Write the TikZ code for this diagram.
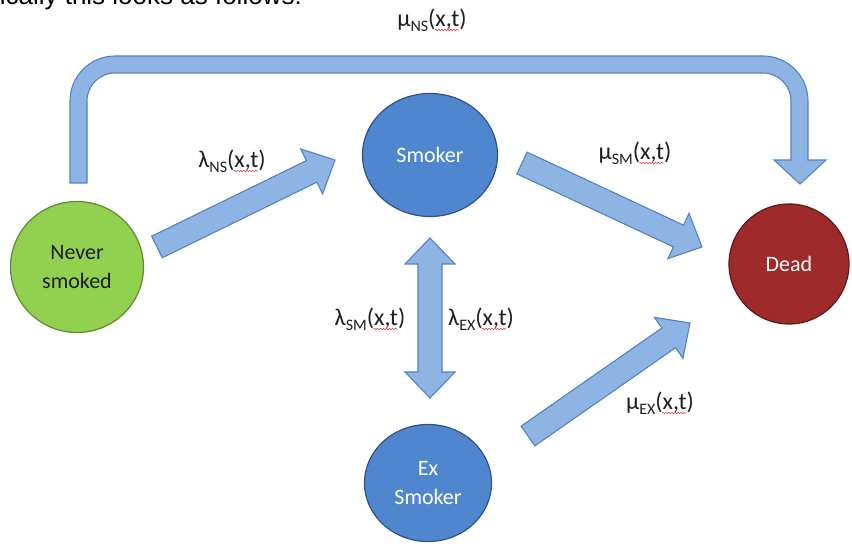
\documentclass[tikz,border=0pt]{standalone}
\usepackage{fontspec}
\setmainfont{Carlito}
\newfontfamily\headfont{Liberation Sans}
\usetikzlibrary{calc, shapes.geometric, decorations.pathmorphing}

\definecolor{arrowfill}{RGB}{142,180,227}
\definecolor{arrowline}{RGB}{84,130,196}
\definecolor{smokerblue}{RGB}{79,134,206}
\definecolor{smokerline}{RGB}{47,82,143}
\definecolor{nevergreen}{RGB}{146,208,80}
\definecolor{neverline}{RGB}{96,140,48}
\definecolor{deadred}{RGB}{158,42,42}
\definecolor{deadline}{RGB}{98,26,26}
\definecolor{labeltext}{RGB}{30,30,30}
\definecolor{squiggle}{RGB}{225,60,60}

\newcommand\rate[2]{#1\raisebox{-0.35ex}{\fontsize{16}{16}\selectfont #2}(x,t)}

% block arrow from tail to tip
\newcommand\blockarrow[2]{%
  \path (#1) coordinate (tail) (#2) coordinate (tip);
  \path ($(tip)!26pt!(tail)$) coordinate (neck);
  \draw[flow] ($(tail)!12pt!90:(tip)$) -- ($(neck)!12pt!-90:(tail)$)
    -- ($(neck)!25pt!-90:(tail)$) -- (tip) -- ($(neck)!25pt!90:(tail)$)
    -- ($(neck)!12pt!90:(tail)$) -- ($(tail)!12pt!-90:(tip)$) -- cycle;
}
% block arrow with heads at both ends
\newcommand\dblarrow[2]{%
  \path (#1) coordinate (tipa) (#2) coordinate (tipb);
  \path ($(tipa)!26pt!(tipb)$) coordinate (necka) ($(tipb)!26pt!(tipa)$) coordinate (neckb);
  \draw[flow] (tipa) -- ($(necka)!25pt!90:(tipb)$) -- ($(necka)!12pt!90:(tipb)$)
    -- ($(neckb)!12pt!-90:(tipa)$) -- ($(neckb)!25pt!-90:(tipa)$) -- (tipb)
    -- ($(neckb)!25pt!90:(tipa)$) -- ($(neckb)!12pt!90:(tipa)$)
    -- ($(necka)!12pt!-90:(tipb)$) -- ($(necka)!25pt!-90:(tipb)$) -- cycle;
}

\begin{document}
\begin{tikzpicture}[x=1pt, y=1pt,
  state/.style={draw, ellipse, inner sep=0pt, line width=1.2pt, align=center,
    font=\fontsize{22}{29}\selectfont},
  flow/.style={fill=arrowfill, draw=arrowline, line width=1.1pt, line join=miter},
  rate/.style={text=labeltext, inner sep=0pt, anchor=base, font=\fontsize{24}{28}\selectfont},
  wavy/.style={draw=squiggle, line width=0.6pt, decorate,
    decoration={snake, amplitude=0.8pt, segment length=3pt}}]
\useasboundingbox (0,0) rectangle (852,548);
\clip (0,0) rectangle (852,548);

\node (head)[anchor=base east, inner sep=0pt, font=\headfont\fontsize{26}{30}\selectfont] at (302,543) {ically this looks as follows:};

\node (never)[state, fill=nevergreen, draw=neverline, minimum width=133pt, minimum height=131pt, text=labeltext] at (77,281) {Never\\smoked};
\node (smoker)[state, fill=smokerblue, draw=smokerline, minimum width=135pt, minimum height=123pt, text=white] at (430,393) {Smoker};
\node (ex)[state, fill=smokerblue, draw=smokerline, minimum width=127pt, minimum height=117pt, text=white] at (428,65) {Ex\\Smoker};
\node (dead)[state, fill=deadred, draw=deadline, minimum width=120pt, minimum height=120pt, text=white] at (789,284) {Dead};

\coordinate (ns-out) at (157,301);
\coordinate (sm-in) at (335,388);
\coordinate (sm-out) at (522,385);
\coordinate (dead-in1) at (702,301);
\coordinate (ex-out) at (528,112);
\coordinate (dead-in2) at (690,225);
\coordinate (sm-down) at (430,310);
\coordinate (ex-up) at (430,150);

\blockarrow{ns-out}{sm-in}
\blockarrow{sm-out}{dead-in1}
\blockarrow{ex-out}{dead-in2}
\dblarrow{sm-down}{ex-up}

% bent arrow from never smoked over the top to dead
\draw[flow] (87,365) -- (70,365) -- (70,447) arc[start angle=180, end angle=90, radius=45pt]
  -- (763,492) arc[start angle=90, end angle=0, radius=45pt]
  -- (808,388) -- (826,388) -- (800,364) -- (774,388) -- (791,388)
  -- (791,447) arc[start angle=0, end angle=90, radius=28pt]
  -- (115,475) arc[start angle=90, end angle=180, radius=28pt] -- cycle;

\node (r-ns-dead)[rate] at (432,521) {\rate{μ}{NS}};
\node (r-ns-sm)[rate] at (232,380) {\rate{λ}{NS}};
\node (r-sm-dead)[rate] at (635,388) {\rate{μ}{SM}};
\node (r-sm-ex)[rate] at (370,222) {\rate{λ}{SM}};
\node (r-ex-sm)[rate] at (481,222) {\rate{λ}{EX}};
\node (r-ex-dead)[rate] at (660,138) {\rate{μ}{EX}};

% spell-check marks under x,t
\foreach \r in {r-ns-dead, r-ns-sm, r-sm-dead, r-sm-ex, r-ex-sm, r-ex-dead}
  \draw[wavy] ([xshift=-32pt, yshift=-3pt]\r.base east) -- ([xshift=-8pt, yshift=-3pt]\r.base east);
\end{tikzpicture}
\end{document}
